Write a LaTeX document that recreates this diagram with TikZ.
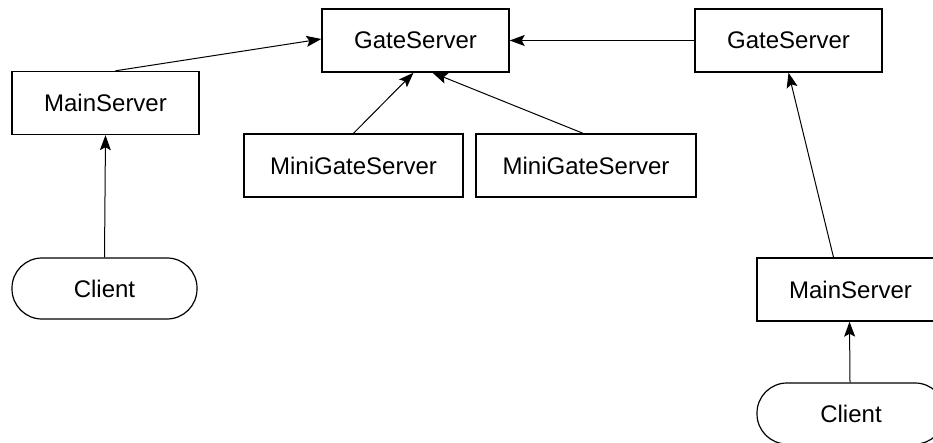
\documentclass[tikz,border=0pt]{standalone}
\usepackage{fontspec}
\setmainfont{Liberation Sans}
\usetikzlibrary{arrows.meta}
\begin{document}
\begin{tikzpicture}[x=1pt,y=-1pt,
  every node/.style={font=\fontsize{24}{28}\selectfont},
  box/.style={draw,line width=1.4pt,rectangle,inner sep=0pt,minimum width=#1,minimum height=63pt},
  pill/.style={draw,line width=1.2pt,rectangle,rounded corners=30pt,inner sep=0pt,minimum width=#1,minimum height=61pt},
  conn/.style={line width=1pt,-{Stealth[length=15pt,width=11pt,inset=3pt]}}]
\useasboundingbox[fill=white] (0,0) rectangle (933,443);
\clip (0,0) rectangle (933,443);
\node[box=187pt] (gs1) at (415.5,40.5) {GateServer};
\node[box=187pt] (gs2) at (788.5,40.5) {GateServer};
\node[box=187pt] (ms1) at (105.5,103) {MainServer};
\node[box=219pt] (mg1) at (353.5,165.5) {MiniGateServer};
\node[box=220pt] (mg2) at (586,165.5) {MiniGateServer};
\node[pill=185pt] (cl1) at (104.5,288.5) {Client};
\node[box=187pt] (ms2) at (850.5,289.5) {MainServer};
\node[pill=188pt] (cl2) at (851,413.5) {Client};
\draw[conn] ([xshift=10pt]ms1.north) -- ([yshift=1.5pt]gs1.west);
\draw[conn] (mg1.north) -- ([xshift=-2pt]gs1.south);
\draw[conn] ([xshift=-3pt]mg2.north) -- ([xshift=17pt]gs1.south);
\draw[conn] (gs2.west) -- (gs1.east);
\draw[conn] ([xshift=-17pt]ms2.north) -- (gs2.south);
\draw[conn] (cl1.north) -- (ms1.south);
\draw[conn] ([xshift=-1pt]cl2.north) -- ([xshift=-1pt]ms2.south);
\end{tikzpicture}
\end{document}
